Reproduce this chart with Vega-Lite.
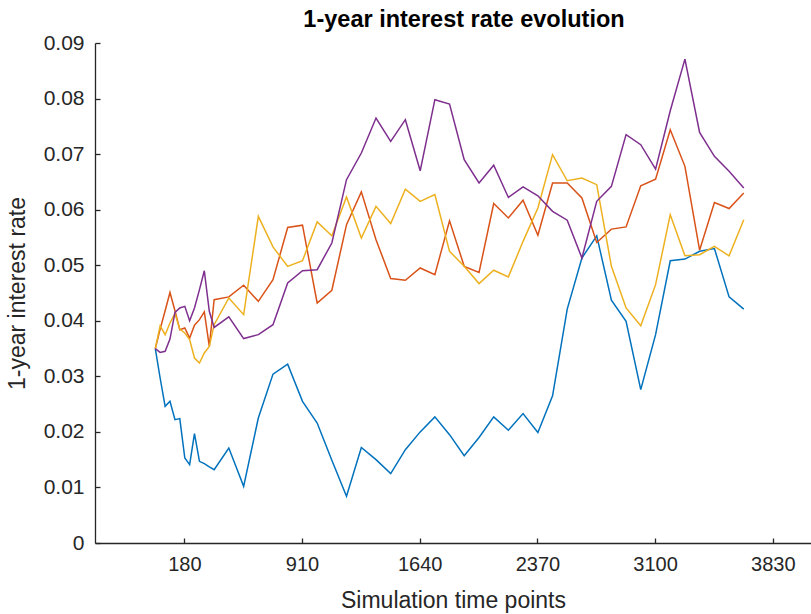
{
  "$schema": "https://vega.github.io/schema/vega-lite/v6.json",
  "width": 716,
  "height": 500,
  "autosize": {"type": "none"},
  "padding": {"left": 95, "top": 43, "right": 0, "bottom": 71},
  "background": "white",
  "title": {
    "text": "1-year interest rate evolution",
    "font": "Liberation Sans",
    "fontSize": 23.5,
    "fontWeight": "bold",
    "color": "#000000",
    "anchor": "middle",
    "dx": 11,
    "offset": 1
  },
  "data": {
    "values": [
      {"t": 0, "p1": 0.0350, "p2": 0.0350, "p3": 0.0350, "p4": 0.0350},
      {"t": 30, "p1": 0.0297, "p2": 0.0385, "p3": 0.0391, "p4": 0.0343},
      {"t": 61, "p1": 0.0246, "p2": 0.0418, "p3": 0.0375, "p4": 0.0345},
      {"t": 91, "p1": 0.0255, "p2": 0.0451, "p3": 0.0396, "p4": 0.0367},
      {"t": 122, "p1": 0.0222, "p2": 0.0418, "p3": 0.0413, "p4": 0.0415},
      {"t": 152, "p1": 0.0224, "p2": 0.0384, "p3": 0.0385, "p4": 0.0423},
      {"t": 183, "p1": 0.0153, "p2": 0.0387, "p3": 0.0378, "p4": 0.0426},
      {"t": 213, "p1": 0.0141, "p2": 0.0369, "p3": 0.0366, "p4": 0.0400},
      {"t": 243, "p1": 0.0197, "p2": 0.0392, "p3": 0.0333, "p4": 0.0423},
      {"t": 274, "p1": 0.0147, "p2": 0.0402, "p3": 0.0324, "p4": 0.0456},
      {"t": 304, "p1": 0.0143, "p2": 0.0416, "p3": 0.0342, "p4": 0.0490},
      {"t": 335, "p1": 0.0137, "p2": 0.0354, "p3": 0.0354, "p4": 0.0417},
      {"t": 365, "p1": 0.0132, "p2": 0.0438, "p3": 0.0393, "p4": 0.0388},
      {"t": 456, "p1": 0.0171, "p2": 0.0443, "p3": 0.0441, "p4": 0.0407},
      {"t": 548, "p1": 0.0102, "p2": 0.0464, "p3": 0.0411, "p4": 0.0368},
      {"t": 639, "p1": 0.0225, "p2": 0.0435, "p3": 0.0588, "p4": 0.0375},
      {"t": 730, "p1": 0.0304, "p2": 0.0474, "p3": 0.0533, "p4": 0.0393},
      {"t": 821, "p1": 0.0322, "p2": 0.0568, "p3": 0.0498, "p4": 0.0468},
      {"t": 913, "p1": 0.0255, "p2": 0.0572, "p3": 0.0508, "p4": 0.0490},
      {"t": 1004, "p1": 0.0216, "p2": 0.0432, "p3": 0.0578, "p4": 0.0492},
      {"t": 1095, "p1": 0.0149, "p2": 0.0455, "p3": 0.0553, "p4": 0.0540},
      {"t": 1186, "p1": 0.0084, "p2": 0.0573, "p3": 0.0623, "p4": 0.0654},
      {"t": 1278, "p1": 0.0172, "p2": 0.0632, "p3": 0.0549, "p4": 0.0702},
      {"t": 1369, "p1": 0.0150, "p2": 0.0546, "p3": 0.0606, "p4": 0.0765},
      {"t": 1460, "p1": 0.0125, "p2": 0.0476, "p3": 0.0575, "p4": 0.0723},
      {"t": 1551, "p1": 0.0168, "p2": 0.0473, "p3": 0.0637, "p4": 0.0762},
      {"t": 1643, "p1": 0.0200, "p2": 0.0495, "p3": 0.0615, "p4": 0.0670},
      {"t": 1734, "p1": 0.0227, "p2": 0.0483, "p3": 0.0627, "p4": 0.0798},
      {"t": 1825, "p1": 0.0195, "p2": 0.0580, "p3": 0.0525, "p4": 0.0790},
      {"t": 1916, "p1": 0.0157, "p2": 0.0498, "p3": 0.0498, "p4": 0.0690},
      {"t": 2008, "p1": 0.0190, "p2": 0.0487, "p3": 0.0467, "p4": 0.0648},
      {"t": 2099, "p1": 0.0227, "p2": 0.0611, "p3": 0.0491, "p4": 0.0680},
      {"t": 2190, "p1": 0.0203, "p2": 0.0585, "p3": 0.0479, "p4": 0.0622},
      {"t": 2281, "p1": 0.0233, "p2": 0.0617, "p3": 0.0543, "p4": 0.0641},
      {"t": 2373, "p1": 0.0199, "p2": 0.0554, "p3": 0.0603, "p4": 0.0625},
      {"t": 2464, "p1": 0.0265, "p2": 0.0648, "p3": 0.0699, "p4": 0.0597},
      {"t": 2555, "p1": 0.0421, "p2": 0.0648, "p3": 0.0652, "p4": 0.0581},
      {"t": 2646, "p1": 0.0513, "p2": 0.0621, "p3": 0.0657, "p4": 0.0513},
      {"t": 2738, "p1": 0.0553, "p2": 0.0541, "p3": 0.0645, "p4": 0.0615},
      {"t": 2829, "p1": 0.0437, "p2": 0.0565, "p3": 0.0498, "p4": 0.0642},
      {"t": 2920, "p1": 0.0399, "p2": 0.0569, "p3": 0.0423, "p4": 0.0735},
      {"t": 3011, "p1": 0.0276, "p2": 0.0643, "p3": 0.0391, "p4": 0.0717},
      {"t": 3103, "p1": 0.0375, "p2": 0.0655, "p3": 0.0465, "p4": 0.0673},
      {"t": 3194, "p1": 0.0508, "p2": 0.0744, "p3": 0.0591, "p4": 0.0778},
      {"t": 3285, "p1": 0.0511, "p2": 0.0678, "p3": 0.0517, "p4": 0.0871},
      {"t": 3376, "p1": 0.0525, "p2": 0.0527, "p3": 0.0519, "p4": 0.0739},
      {"t": 3468, "p1": 0.0530, "p2": 0.0613, "p3": 0.0534, "p4": 0.0696},
      {"t": 3559, "p1": 0.0443, "p2": 0.0602, "p3": 0.0517, "p4": 0.0669},
      {"t": 3650, "p1": 0.0421, "p2": 0.0630, "p3": 0.0582, "p4": 0.0639}
    ]
  },
  "transform": [
    {"fold": ["p1", "p2", "p3", "p4"], "as": ["path", "rate"]}
  ],
  "mark": {"type": "line", "strokeWidth": 1.5, "clip": true},
  "encoding": {
    "x": {
      "field": "t",
      "type": "quantitative",
      "scale": {"domain": [-374, 4067], "nice": false, "zero": false},
      "axis": {
        "values": [180, 910, 1640, 2370, 3100, 3830],
        "format": "d",
        "title": "Simulation time points",
        "titlePadding": 15,
        "labelPadding": 16
      }
    },
    "y": {
      "field": "rate",
      "type": "quantitative",
      "scale": {"domain": [0, 0.09], "nice": false},
      "axis": {
        "values": [0, 0.01, 0.02, 0.03, 0.04, 0.05, 0.06, 0.07, 0.08, 0.09],
        "format": ".2~f",
        "title": "1-year interest rate",
        "titlePadding": 14,
        "labelPadding": 16,
        "labelFontSize": 21
      }
    },
    "color": {
      "field": "path",
      "type": "nominal",
      "scale": {
        "domain": ["p1", "p2", "p3", "p4"],
        "range": ["#0072BD", "#D95319", "#EDB120", "#7E2F8E"]
      },
      "legend": null
    }
  },
  "config": {
    "view": {"stroke": null},
    "axis": {
      "grid": false,
      "domainColor": "#262626",
      "domainWidth": 1.3,
      "tickColor": "#262626",
      "tickWidth": 1.3,
      "tickSize": -5,
      "labelFont": "Liberation Sans",
      "labelFontSize": 20,
      "labelColor": "#262626",
      "titleFont": "Liberation Sans",
      "titleFontSize": 23,
      "titleFontWeight": "normal",
      "titleColor": "#262626"
    }
  }
}
